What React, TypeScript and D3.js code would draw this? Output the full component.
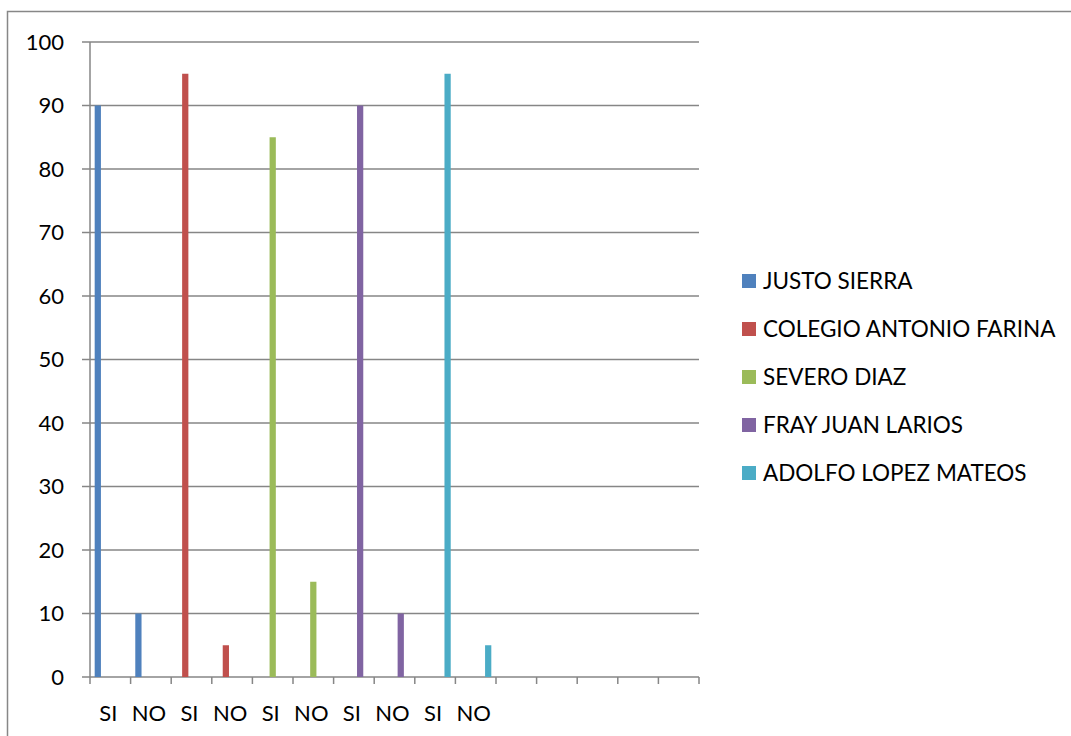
import React from "react";
import * as d3 from "d3";

const categories: string[] = ["SI", "NO", "SI", "NO", "SI", "NO", "SI", "NO", "SI", "NO", "", "", "", "", ""];
const seriesNames: string[] = ["JUSTO SIERRA", "COLEGIO ANTONIO FARINA", "SEVERO DIAZ", "FRAY JUAN LARIOS", "ADOLFO LOPEZ MATEOS"];
const seriesColors: string[] = ["#4F81BD", "#C0504D", "#9BBB59", "#8064A2", "#4BACC6"];
const justoSierra: (number | null)[] = [90, 10, null, null, null, null, null, null, null, null, null, null, null, null, null];
const colegioAntonioFarina: (number | null)[] = [null, null, 95, 5, null, null, null, null, null, null, null, null, null, null, null];
const severoDiaz: (number | null)[] = [null, null, null, null, 85, 15, null, null, null, null, null, null, null, null, null];
const frayJuanLarios: (number | null)[] = [null, null, null, null, null, null, 90, 10, null, null, null, null, null, null, null];
const adolfoLopezMateos: (number | null)[] = [null, null, null, null, null, null, null, null, 95, 5, null, null, null, null, null];
const yTicks: number[] = [0, 10, 20, 30, 40, 50, 60, 70, 80, 90, 100];

const seriesValues = [justoSierra, colegioAntonioFarina, severoDiaz, frayJuanLarios, adolfoLopezMateos];

export default function App() {
  const W = 1071, H = 736;
  const left = 90, right = 699, top = 42, bottom = 677;
  const font = "Lato, 'Open Sans', sans-serif";
  const idx = categories.map((_, i) => String(i));
  const x = d3.scaleBand<string>().domain(idx).range([left, right]).paddingInner(0).paddingOuter(0);
  const xs = d3.scaleBand<string>().domain(seriesNames).range([0, x.bandwidth()]).paddingInner(0).paddingOuter(0.75);
  const y = d3.scaleLinear().domain([0, 100]).range([bottom, top]);
  const grid = "#868686";
  const boundaries = d3.range(categories.length + 1).map((i) => left + i * x.step());

  return (
    <svg width={W} height={H} style={{ position: "absolute", left: 0, top: 0 }} xmlns="http://www.w3.org/2000/svg">
      <rect x={0} y={0} width={W} height={H} fill="#fff" />
      <rect x={7.5} y={11.5} width={W + 20} height={H + 20} fill="none" stroke="#878787" strokeWidth={1.5} />
      {yTicks.map((t) => (
        <g key={t}>
          <line x1={82} x2={right} y1={y(t)} y2={y(t)} stroke={grid} strokeWidth={1.5} />
          <text x={64} y={y(t)} dy="0.35em" textAnchor="end" fontFamily={font} fontSize={22} fill="#000">{t}</text>
        </g>
      ))}
      <line x1={left} x2={left} y1={top} y2={bottom} stroke={grid} strokeWidth={1.5} />
      {boundaries.map((b, i) => (
        <line key={i} x1={b} x2={b} y1={bottom} y2={bottom + 7} stroke={grid} strokeWidth={1.5} />
      ))}
      {seriesValues.map((vals, s) => (
        <g key={s} fill={seriesColors[s]}>
          {vals.map((v, i) =>
            v == null ? null : (
              <rect key={i} x={(x(String(i)) as number) + (xs(seriesNames[s]) as number)} width={xs.bandwidth()} y={y(v)} height={y(0) - y(v)} />
            )
          )}
        </g>
      ))}
      {categories.map((c, i) => (
        <text key={i} x={(x(String(i)) as number) + x.bandwidth() / 2 - 2} y={713} dy="0.35em" textAnchor="middle" fontFamily={font} fontSize={22} fill="#000">{c}</text>
      ))}
      {seriesNames.map((n, s) => (
        <g key={n} transform={`translate(742, ${281 + s * 48})`}>
          <rect x={0} y={-7} width={14} height={14} fill={seriesColors[s]} />
          <text x={21} y={0} dy="0.35em" fontFamily={font} fontSize={22.5} fill="#000">{n}</text>
        </g>
      ))}
    </svg>
  );
}
